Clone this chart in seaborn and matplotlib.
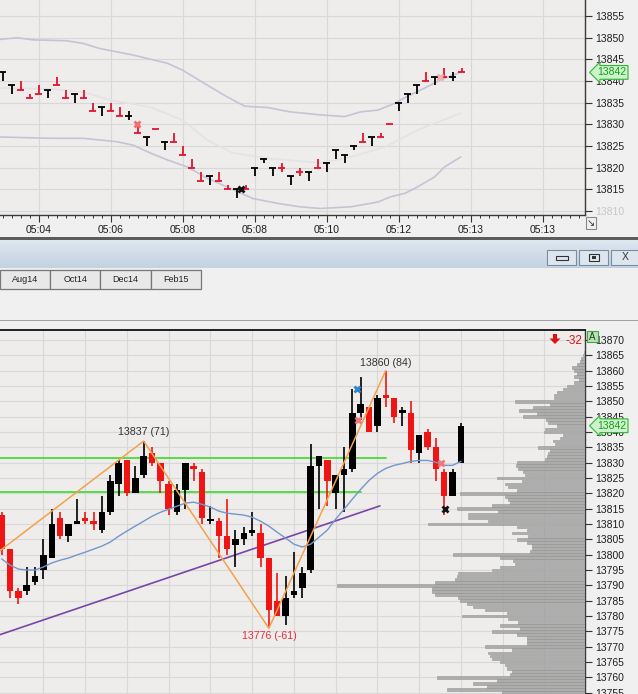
import matplotlib
matplotlib.use("Agg")
import matplotlib.pyplot as plt
import matplotlib.transforms as mtrans
from matplotlib.patches import Rectangle, Polygon
import numpy as np
import pandas as pd
import seaborn as sns

# ---------------- data: top (tick-bar) panel ----------------
top_time_labels = ["05:04", "05:06", "05:08", "05:08", "05:10", "05:12", "05:13", "05:13"]
top_label_bars = [4, 12, 20, 28, 36, 44, 52, 60]
top_high = [13842, 13839, 13840, 13837, 13839, 13838, 13841, 13838, 13837, 13838,
            13835, 13834, 13835, 13834, 13833, 13830, 13827, 13829, 13826, 13828,
            13825, 13822, 13819, 13818, 13819, 13816, 13815, 13816, 13820, 13822,
            13820, 13821, 13818, 13820, 13819, 13822, 13821, 13824, 13823, 13825,
            13828, 13827, 13828, 13830, 13835, 13837, 13839, 13842, 13841, 13843,
            13842, 13843]
top_low = [13840, 13837, 13838, 13836, 13837, 13836, 13839, 13836, 13835, 13836,
           13833, 13832, 13833, 13832, 13831, 13828, 13825, 13829, 13824, 13826,
           13823, 13820, 13817, 13816, 13817, 13815, 13813, 13815, 13818, 13821,
           13818, 13819, 13816, 13818, 13817, 13820, 13819, 13822, 13821, 13824,
           13826, 13825, 13827, 13830, 13833, 13835, 13837, 13840, 13839, 13841,
           13840, 13842]
top_close = [13842, 13839, 13838, 13836, 13837, 13838, 13839, 13836, 13837, 13836,
             13833, 13834, 13833, 13832, 13832, 13828, 13827, 13829, 13826, 13826,
             13823, 13820, 13817, 13818, 13817, 13815, 13815, 13815, 13820, 13822,
             13820, 13820, 13818, 13819, 13819, 13820, 13821, 13824, 13823, 13825,
             13826, 13827, 13827, 13830, 13835, 13837, 13839, 13840, 13841, 13841,
             13841, 13842]
top_dir = "UUDDDUDDUD" "DUDDUDUDUD" "DDDUDDUDUU" "UDUDUDUUUU" "DUDDUUUDUD" "UD"

upper_idx = [-0.3, 1.56, 3.37, 7.1, 8.9, 10.8, 14.5, 18.3, 20.0, 22.7, 24.9, 26.9, 29.4,
             31.9, 35.3, 38.0, 39.8, 41.7, 43.6, 44.7, 46.4, 48.6, 50.9]
upper_val = [13849.6, 13850.0, 13849.5, 13849.3, 13848.7, 13847.5, 13846.0, 13844.1, 13842.5,
             13839.1, 13836.4, 13834.2, 13833.9, 13832.9, 13832.2, 13831.8, 13832.9, 13833.3,
             13834.9, 13836.2, 13837.9, 13840.2, 13842.1]
middle_idx = [-0.3, 5.3, 8.9, 12.0, 16.4, 20.0, 22.7, 25.6, 29.4, 35.3, 38.7, 42.5, 46.1, 50.9]
middle_val = [13838.4, 13838.2, 13837.5, 13835.6, 13834.0, 13831.0, 13826.4, 13823.4, 13822.2,
              13821.1, 13822.5, 13824.8, 13828.7, 13832.6]
lower_idx = [-0.3, 5.3, 8.9, 12.7, 14.5, 16.4, 18.3, 20.5, 22.7, 24.9, 27.8, 30.5, 33.0, 35.3,
             38.7, 41.7, 43.1, 44.7, 46.1, 48.0, 49.1, 50.9]
lower_val = [13827.1, 13826.8, 13826.8, 13826.0, 13825.2, 13823.4, 13821.8, 13820.2, 13817.6,
             13815.6, 13812.9, 13811.8, 13811.0, 13810.6, 13811.0, 13812.1, 13813.3, 13814.1,
             13815.6, 13817.9, 13820.2, 13822.5]
top_marks_idx = [14.9, 26.5, 48.6]
top_marks_val = [13830, 13815, 13841]
top_marks_col = ["#f07070", "#111111", "#f4b0b0"]
last_price = 13842

# ---------------- data: bottom (candlestick) panel ----------------
opens = [13813, 13802, 13788, 13788, 13791, 13795, 13799, 13812, 13806, 13810,
         13812, 13811, 13808, 13814, 13823, 13831, 13820, 13826, 13833, 13830,
         13823, 13814, 13821, 13829, 13827, 13811, 13811, 13806, 13803, 13805,
         13807, 13807, 13799, 13785, 13780, 13787, 13789, 13795, 13829, 13831,
         13820, 13826, 13828, 13846, 13848, 13842, 13852, 13851, 13846, 13846,
         13833, 13840, 13835, 13827, 13819, 13830]
highs = [13814, 13802, 13789, 13796, 13796, 13805, 13815, 13814, 13810, 13818,
         13814, 13814, 13819, 13826, 13831, 13831, 13829, 13837, 13835, 13830,
         13824, 13823, 13830, 13830, 13828, 13816, 13812, 13818, 13808, 13809,
         13814, 13810, 13799, 13794, 13793, 13801, 13796, 13836, 13832, 13831,
         13826, 13835, 13854, 13858, 13848, 13852, 13860, 13851, 13848, 13850,
         13839, 13841, 13838, 13828, 13828, 13843]
lows = [13800, 13786, 13784, 13787, 13790, 13792, 13799, 13805, 13804, 13810,
        13810, 13808, 13807, 13813, 13819, 13819, 13820, 13825, 13829, 13820,
        13813, 13813, 13815, 13824, 13810, 13810, 13799, 13800, 13796, 13803,
        13806, 13796, 13776, 13780, 13777, 13786, 13786, 13794, 13815, 13816,
        13815, 13814, 13827, 13844, 13840, 13840, 13848, 13843, 13842, 13830,
        13830, 13834, 13824, 13813, 13819, 13830]
closes = [13802, 13788, 13786, 13790, 13793, 13800, 13810, 13806, 13810, 13811,
          13811, 13810, 13814, 13824, 13830, 13820, 13825, 13832, 13830, 13824,
          13815, 13821, 13830, 13828, 13812, 13811, 13806, 13802, 13805, 13807,
          13808, 13799, 13782, 13780, 13786, 13788, 13794, 13829, 13832, 13824,
          13826, 13828, 13846, 13849, 13840, 13851, 13851, 13845, 13847, 13834,
          13839, 13835, 13828, 13819, 13827, 13842]
ma_values = [13798.6, 13796.6, 13795.3, 13795.0, 13795.0, 13796.0, 13797.3, 13798.2, 13798.9, 13799.9,
             13800.8, 13801.8, 13802.8, 13804.1, 13806.0, 13807.7, 13809.3, 13810.9, 13812.5, 13813.8,
             13814.8, 13815.8, 13816.8, 13817.1, 13816.4, 13815.5, 13814.2, 13813.5, 13813.2, 13812.9,
             13812.2, 13810.9, 13809.3, 13807.3, 13805.4, 13803.4, 13802.5, 13803.4, 13805.7, 13808.0,
             13811.6, 13814.8, 13818.1, 13821.3, 13824.2, 13826.5, 13828.1, 13829.1, 13829.7, 13830.4,
             13830.7, 13830.7, 13830.1, 13829.1, 13829.1, 13830.4]
zigzag_idx = [-3, 17, 32, 46]
zigzag_val = [13795.5, 13837, 13776, 13860]
zigzag_labels = ["13837 (71)", "13776 (-61)", "13860 (84)"]
trend_idx = [-1, 45.3]
trend_val = [13773.2, 13815.9]
hlevels = [13831.5, 13820.5]
hlevel_end = [46.0, 43.0]
bot_marks_idx = [42.6, 42.7, 52.6, 53.1]
bot_marks_val = [13854, 13844, 13830, 13815]
bot_marks_col = ["#2f86c8", "#f07878", "#f07878", "#111111"]
delta_text = "-32"

vp_price = list(range(13755, 13867))
vp_len = [83, 138, 98, 112, 88, 148, 75, 73, 78, 80,           # 13755-13764
          85, 93, 95, 97, 73, 100, 58, 58, 58, 68,             # 13765-13774
          93, 65, 85, 67, 77, 123, 78, 100, 112, 118,          # 13775-13784
          125, 127, 150, 153, 153, 248, 150, 130, 128, 127,    # 13785-13794
          93, 85, 70, 72, 85, 132, 55, 53, 53, 58,             # 13795-13804
          68, 57, 73, 58, 68, 157, 97, 117, 117, 87,           # 13805-13814
          128, 93, 75, 77, 80, 125, 68, 77, 80, 63,            # 13815-13824
          88, 60, 62, 67, 69, 68, 40, 38, 37, 35,              # 13825-13834
          47, 30, 32, 25, 22, 41, 40, 28, 37, 39,              # 13835-13844
          62, 48, 66, 52, 35, 70, 31, 31, 28, 22,              # 13845-13854
          18, 11, 6, 11, 8, 11, 13, 8, 5, 4,                   # 13855-13864
          2, 1]                                                 # 13865-13866

tab_labels = ["Aug14", "Oct14", "Dec14", "Feb15"]

# ---------------- style ----------------
sns.set_theme(style="white")
plt.rcParams["font.family"] = ["Liberation Sans", "DejaVu Sans"]

W, H = 638, 694
fig = plt.figure(figsize=(W / 100, H / 100), dpi=100)
fig.patch.set_facecolor("#f0f0f0")

PLOT_BG = "#eeedeb"
GRID = "#d8d8d8"
TXT = "#1e1e1e"
RED_T = "#e2142e"
RED_C = "#f01515"
GREEN_LINE = "#55dd44"


def fx(x):
    return x / W


def fy(y):
    return 1 - y / H


def px_rect(x0, y0, x1, y1, **kw):
    r = Rectangle((fx(x0), fy(y1)), (x1 - x0) / W, (y1 - y0) / H,
                  transform=fig.transFigure, **kw)
    fig.add_artist(r)
    return r


def px_text(x, y, s, **kw):
    return fig.text(fx(x), fy(y), s, **kw)


# ---------------- top panel ----------------
ax1 = fig.add_axes([0, fy(215), fx(585), 215 / H])
ax1.set_facecolor(PLOT_BG)
ax1.set_xlim(-0.3, 64.7)
ax1.set_ylim(13809.1, 13858.7)
ax1.yaxis.tick_right()
ax1.set_yticks(list(range(13810, 13860, 5)))
ax1.set_xticks(top_label_bars)
ax1.set_xticklabels(top_time_labels)
ax1.set_xticks(list(range(0, 65)), minor=True)
ax1.tick_params(axis="y", which="major", direction="out", length=5, width=0.8,
                color="#333333", labelsize=7.5, labelcolor=TXT, pad=2, right=True, left=False)
ax1.tick_params(axis="x", which="major", direction="out", length=5, width=0.8,
                color="#333333", labelsize=7.5, labelcolor=TXT, pad=2, bottom=True)
ax1.tick_params(axis="x", which="minor", direction="out", length=2.5, width=0.7,
                color="#333333", bottom=True)
ax1.grid(True, which="major", color=GRID, lw=0.8)
for s in ["top", "left"]:
    ax1.spines[s].set_visible(False)
for s in ["right", "bottom"]:
    ax1.spines[s].set_color("#3a3a3a")
    ax1.spines[s].set_linewidth(1.0)
ax1.get_yticklabels()[0].set_color("#c8c8c8")

sns.lineplot(x=upper_idx, y=upper_val, ax=ax1, color="#c4c4d6", lw=1.2,
             sort=False, estimator=None, legend=False)
sns.lineplot(x=middle_idx, y=middle_val, ax=ax1, color="#e3e3e6", lw=1.2,
             sort=False, estimator=None, legend=False)
sns.lineplot(x=lower_idx, y=lower_val, ax=ax1, color="#c4c4d6", lw=1.2,
             sort=False, estimator=None, legend=False)

tb = pd.DataFrame({"i": np.arange(len(top_high)), "h": top_high, "l": top_low,
                   "c": top_close, "d": list(top_dir)})
tb["col"] = np.where(tb["d"] == "U", "#000000", RED_T)
ax1.vlines(tb["i"], tb["l"], tb["h"], colors=tb["col"], lw=1.3, zorder=3)
ax1.hlines(tb["c"], tb["i"] - 0.4, tb["i"] + 0.4, colors=tb["col"], lw=1.3, zorder=3)
for xi, yi, ci in zip(top_marks_idx, top_marks_val, top_marks_col):
    ax1.plot([xi], [yi], marker="x", ms=5, mew=2, color=ci, zorder=4)

tr1 = mtrans.blended_transform_factory(ax1.transAxes, ax1.transData)
ax1.text(1 + 12 / 585, last_price, str(last_price), transform=tr1, ha="left", va="center",
         fontsize=7.5, color="#16a016", clip_on=False, zorder=10,
         bbox=dict(boxstyle="larrow,pad=0.18", fc="#cdf3cd", ec="#2fb52f", lw=0.8))

# ---------------- bottom panel ----------------
ax2 = fig.add_axes([0, 0, fx(585), 364 / H])
ax2.set_facecolor(PLOT_BG)
ax2.set_xlim(-0.204, 69.86)
ax2.set_ylim(13754.6, 13873.2)
ax2.yaxis.tick_right()
ax2.set_yticks(list(range(13755, 13875, 5)))
ax2.set_xticks(list(range(5, 70, 5)))
ax2.tick_params(axis="x", length=0, labelbottom=False, bottom=False)
ax2.tick_params(axis="y", direction="out", length=5, width=0.8, color="#333333",
                labelsize=7.5, labelcolor=TXT, pad=2, right=True, left=False)
ax2.grid(True, color=GRID, lw=0.8)
for s in ["left", "bottom"]:
    ax2.spines[s].set_visible(False)
ax2.spines["top"].set_color("#111111")
ax2.spines["top"].set_linewidth(1.3)
ax2.spines["right"].set_color("#3a3a3a")
ax2.spines["right"].set_linewidth(1.0)

for lvl, end in zip(hlevels, hlevel_end):
    sns.lineplot(x=[-1, end], y=[lvl, lvl], ax=ax2, color=GREEN_LINE, lw=1.4,
                 estimator=None, legend=False)
sns.lineplot(x=trend_idx, y=trend_val, ax=ax2, color="#7a44a8", lw=1.2,
             estimator=None, legend=False)

cd = pd.DataFrame({"i": np.arange(len(opens)), "o": opens, "h": highs, "l": lows, "c": closes})
cd["col"] = np.where(cd["c"] >= cd["o"], "#000000", RED_C)
cd["bot"] = cd[["o", "c"]].min(axis=1)
cd["ht"] = (cd["c"] - cd["o"]).abs().clip(lower=0.7)
ax2.vlines(cd["i"], cd["l"], cd["h"], colors=cd["col"], lw=1.2, zorder=3)
ax2.bar(cd["i"], cd["ht"], bottom=cd["bot"], width=0.78, color=cd["col"], lw=0, zorder=4)

sns.lineplot(x=cd["i"], y=ma_values, ax=ax2, color="#7396cc", lw=1.0,
             estimator=None, legend=False, zorder=5)
sns.lineplot(x=zigzag_idx, y=zigzag_val, ax=ax2, color="#f5a04a", lw=1.1,
             sort=False, estimator=None, legend=False, zorder=6)
for xi, yi, ci in zip(bot_marks_idx, bot_marks_val, bot_marks_col):
    ax2.plot([xi], [yi], marker="x", ms=5, mew=2, color=ci, zorder=7)

ax2.annotate(zigzag_labels[0], xy=(zigzag_idx[1], zigzag_val[1]), xytext=(0, 3),
             textcoords="offset points", ha="center", va="bottom", fontsize=7.7, color="#333333")
ax2.annotate(zigzag_labels[1], xy=(zigzag_idx[2], zigzag_val[2]), xytext=(0, -2),
             textcoords="offset points", ha="center", va="top", fontsize=7.7, color="#e03040")
ax2.annotate(zigzag_labels[2], xy=(zigzag_idx[3], zigzag_val[3]), xytext=(0, 2),
             textcoords="offset points", ha="center", va="bottom", fontsize=7.7, color="#333333")

# volume profile (extends leftwards from the price axis)
ax3 = ax2.twiny()
ax3.set_xlim(585, 0)
ax3.barh(vp_price, vp_len, height=0.86, left=0, color="#a7a7a7", edgecolor="#8f8f8f",
         lw=0.4, alpha=0.9, zorder=2)
ax3.set_xticks([])
for s in ax3.spines.values():
    s.set_visible(False)

tr2 = mtrans.blended_transform_factory(ax2.transAxes, ax2.transData)
ax2.text(1 + 12 / 585, last_price, str(last_price), transform=tr2, ha="left", va="center",
         fontsize=7.5, color="#16a016", clip_on=False, zorder=10,
         bbox=dict(boxstyle="larrow,pad=0.18", fc="#cdf3cd", ec="#2fb52f", lw=0.8))

# delta indicator and "A" badge
arrow = Polygon([[fx(553), fy(334)], [fx(557), fy(334)], [fx(557), fy(338.5)], [fx(560.5), fy(338.5)],
                 [fx(555), fy(344)], [fx(549.5), fy(338.5)], [fx(553), fy(338.5)]],
                closed=True, transform=fig.transFigure, fc="#e01010", ec="none", zorder=20)
fig.add_artist(arrow)
px_text(574, 340.5, delta_text, ha="center", va="center", fontsize=8.5, color="#e01010")
px_rect(587, 331, 598, 342, fc="#b7e4b0", ec="#4f9f4f", lw=0.8, zorder=20)
px_text(592.5, 336.8, "A", ha="center", va="center", fontsize=7, color="#224422", zorder=21)

# ---------------- window chrome ----------------
px_rect(586, 217, 596, 229, fc="#f0f0f0", ec="#8a8a8a", lw=0.8)
px_text(591, 223, "↘", ha="center", va="center", fontsize=7, color="#333333",
        family=["DejaVu Sans"])
px_rect(0, 237, W, 239.5, fc="#5c5c5c", ec="none")
grad = fig.add_axes([0, fy(268), 1, 28.5 / H])
g = np.linspace(0, 1, 64).reshape(-1, 1)
top_c = np.array([0.875, 0.910, 0.945])
bot_c = np.array([0.765, 0.820, 0.880])
img = (top_c[None, None, :] * (1 - g[:, :, None]) + bot_c[None, None, :] * g[:, :, None])
grad.imshow(img, aspect="auto", extent=[0, 1, 0, 1])
grad.set_axis_off()

for x0 in [547, 579, 611]:
    px_rect(x0, 250, x0 + 29, 265, fc="#dde6ef", ec="#7d8da0", lw=0.8)
px_rect(556, 256, 568, 260, fc="none", ec="#333333", lw=0.8)
px_rect(589, 254, 599, 261, fc="none", ec="#333333", lw=0.8)
px_rect(592, 256, 596, 259, fc="#333333", ec="none")
px_text(625.5, 257.5, "X", ha="center", va="center", fontsize=7.5, color="#333333")

for k, lab in enumerate(tab_labels):
    x0 = 50.2 * k
    px_rect(x0, 270, x0 + 50.2, 289, fc="#e8e8e8", ec="#777777", lw=0.9)
    px_text(x0 + 25, 280, lab, ha="center", va="center", fontsize=6.5, color="#222222")

px_rect(0, 319.5, W, 320.5, fc="#a0a0a0", ec="none")

fig.savefig("out.png", dpi=100, facecolor=fig.get_facecolor())
